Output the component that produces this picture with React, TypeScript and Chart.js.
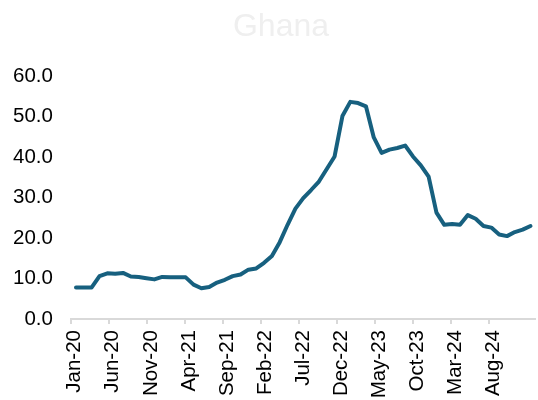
import React, { useEffect, useRef } from 'react';
import { Chart, registerables } from 'chart.js';

Chart.register(...registerables);

// Axis category labels (monthly, Jan-20 .. Jan-25)
const monthLabels: string[] = [
  'Jan-20', 'Feb-20', 'Mar-20', 'Apr-20', 'May-20', 'Jun-20', 'Jul-20', 'Aug-20', 'Sep-20', 'Oct-20', 'Nov-20', 'Dec-20',
  'Jan-21', 'Feb-21', 'Mar-21', 'Apr-21', 'May-21', 'Jun-21', 'Jul-21', 'Aug-21', 'Sep-21', 'Oct-21', 'Nov-21', 'Dec-21',
  'Jan-22', 'Feb-22', 'Mar-22', 'Apr-22', 'May-22', 'Jun-22', 'Jul-22', 'Aug-22', 'Sep-22', 'Oct-22', 'Nov-22', 'Dec-22',
  'Jan-23', 'Feb-23', 'Mar-23', 'Apr-23', 'May-23', 'Jun-23', 'Jul-23', 'Aug-23', 'Sep-23', 'Oct-23', 'Nov-23', 'Dec-23',
  'Jan-24', 'Feb-24', 'Mar-24', 'Apr-24', 'May-24', 'Jun-24', 'Jul-24', 'Aug-24', 'Sep-24', 'Oct-24', 'Nov-24', 'Dec-24',
  'Jan-25',
];

// Series values, Jan-20 .. Nov-24
const inflation: number[] = [
  7.8, 7.8, 7.8, 10.6, 11.3, 11.2, 11.4, 10.5, 10.4, 10.1, 9.8, 10.4,
  10.3, 10.3, 10.3, 8.5, 7.6, 7.9, 9.0, 9.7, 10.6, 11.0, 12.2, 12.5,
  13.9, 15.6, 19.0, 23.3, 27.3, 29.9, 31.9, 34.0, 37.1, 40.2, 50.2, 53.7,
  53.4, 52.6, 44.9, 41.1, 41.9, 42.3, 42.9, 40.2, 38.0, 35.2, 26.3, 23.3,
  23.5, 23.3, 25.7, 24.8, 23.0, 22.6, 20.9, 20.5, 21.5, 22.1, 23.0,
];

const yMin = 0;
const yMax = 60;
const yStep = 10;
const labelEvery = 5;
const lastLabelIndex = 55; // Aug-24
const title = 'Ghana';

const FONT = 'Liberation Sans, Arial, sans-serif';

export default function App() {
  const ref = useRef<HTMLCanvasElement>(null);

  useEffect(() => {
    const canvas = ref.current;
    if (!canvas) return;
    const showTick = (i: any) => typeof i === 'number' && i % labelEvery === 0 && i <= lastLabelIndex;
    const chart = new Chart(canvas, {
      type: 'line',
      data: {
        datasets: [
          {
            data: inflation.map((v, i) => ({ x: i, y: v })),
            xAxisID: 'x',
            yAxisID: 'y',
            borderColor: '#17607f',
            borderWidth: 4,
            pointRadius: 0,
            tension: 0,
            fill: false,
            borderCapStyle: 'round',
            borderJoinStyle: 'round',
          },
        ],
      },
      options: {
        responsive: false,
        animation: false,
        layout: { padding: { left: 27, right: 3, top: 0, bottom: 0 } },
        plugins: {
          legend: { display: false },
          tooltip: { enabled: false },
          title: {
            display: true,
            text: title,
            color: '#efefef',
            font: { family: FONT, size: 32, weight: 'normal' },
            padding: { top: 8, bottom: 30 },
          },
        },
        scales: {
          x: {
            type: 'linear',
            display: false,
            min: -0.638,
            max: 58.574,
          },
          xCat: {
            type: 'category',
            labels: monthLabels,
            position: 'bottom',
            offset: true,
            grid: {
              display: true,
              drawOnChartArea: false,
              drawTicks: true,
              tickLength: 5,
              offset: true,
              lineWidth: 2,
              tickWidth: 2,
              tickColor: (ctx: any) => (showTick(ctx.index) ? '#d9d9d9' : 'rgba(0,0,0,0)'),
            },
            border: { display: true, color: '#d9d9d9', width: 2 },
            ticks: {
              autoSkip: false,
              maxRotation: 90,
              minRotation: 90,
              padding: 6,
              color: '#000',
              font: { family: FONT, size: 20.5 },
              callback: (_v: any, i: number) => (showTick(i) ? monthLabels[i] : ''),
            },
            afterFit: (s: any) => {
              s.height = 81;
              s.paddingLeft = 0;
              s.paddingRight = 0;
            },
          },
          y: {
            type: 'linear',
            min: yMin,
            max: yMax,
            grid: { display: false },
            border: { display: false },
            ticks: {
              stepSize: yStep,
              mirror: true,
              crossAlign: 'far',
              padding: -58,
              color: '#000',
              font: { family: FONT, size: 20.5 },
              callback: (v: any) => Number(v).toFixed(1),
            },
            afterFit: (s: any) => {
              s.width = 44;
            },
          },
        },
      },
    } as any);
    return () => chart.destroy();
  }, []);

  return (
    <div style={{ position: 'fixed', left: 0, top: 0, width: 538, height: 400, overflow: 'hidden', background: '#fff' }}>
      <canvas ref={ref} width={538} height={400} style={{ display: 'block' }} />
    </div>
  );
}
